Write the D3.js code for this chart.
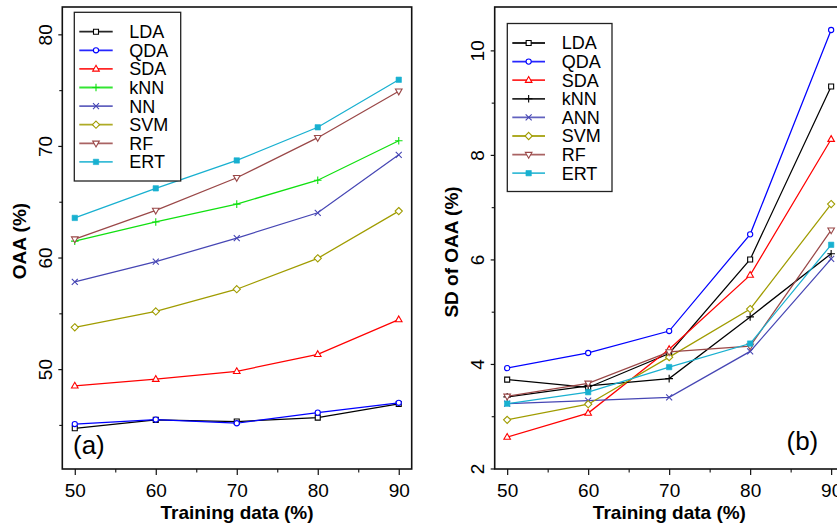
<!DOCTYPE html>
<html>
<head>
<meta charset="utf-8">
<script src="https://cdn.jsdelivr.net/npm/d3@7"></script>
<style>
  html, body { margin: 0; padding: 0; background: #fff; }
  svg { display: block; font-family: "Liberation Sans", Arial, sans-serif; }
</style>
</head>
<body>
<svg id="chart" width="837" height="528"></svg>
<script>
// Training share (%) on the x axis
const trainPct = [50, 60, 70, 80, 90];

// Panel (a): overall accuracy (OAA, %)
const methodsA = ["LDA", "QDA", "SDA", "kNN", "NN", "SVM", "RF", "ERT"];
const oaaLDA = [44.7, 45.45, 45.3, 45.65, 46.88];
const oaaQDA = [45.08, 45.48, 45.15, 46.1, 46.98];
const oaaSDA = [48.5, 49.1, 49.8, 51.33, 54.44];
const oaaKNN = [61.47, 63.19, 64.79, 66.93, 70.46];
const oaaNN  = [57.82, 59.63, 61.74, 64.01, 69.2];
const oaaSVM = [53.75, 55.17, 57.16, 59.93, 64.16];
const oaaRF  = [61.65, 64.22, 67.15, 70.74, 74.9];
const oaaERT = [63.55, 66.2, 68.7, 71.67, 75.93];

// Panel (b): standard deviation of OAA (%)
const methodsB = ["LDA", "QDA", "SDA", "kNN", "ANN", "SVM", "RF", "ERT"];
const sdLDA = [3.70, 3.55, 4.20, 6.00, 9.31];
const sdQDA = [3.92, 4.21, 4.63, 6.48, 10.39];
const sdSDA = [2.60, 3.06, 4.28, 5.70, 8.30];
const sdKNN = [3.37, 3.58, 3.72, 4.90, 6.11];
const sdANN = [3.24, 3.30, 3.36, 4.24, 6.01];
const sdSVM = [2.93, 3.23, 4.13, 5.05, 7.06];
const sdRF  = [3.38, 3.63, 4.23, 4.34, 6.56];
const sdERT = [3.24, 3.46, 3.94, 4.39, 6.28];

// Tick values
const xMajor = [50, 60, 70, 80, 90];
const xMinor = [55, 65, 75, 85];
const yMajorA = [50, 60, 70, 80];
const yMinorA = [45, 55, 65, 75];
const yMajorB = [2, 4, 6, 8, 10];
const yMinorB = [3, 5, 7, 9];

// Colours and marker shapes per legend row
const coloursA = ["#000000", "#0000ff", "#ff0000", "#10e010", "#4646b4", "#a09c00", "#9a4848", "#18b0d0"];
const coloursB = ["#000000", "#0000ff", "#ff0000", "#000000", "#4646b4", "#a09c00", "#9a4848", "#18b0d0"];
const shapes = ["square", "circle", "triUp", "plus", "cross", "diamond", "triDown", "squareFilled"];

const markerPath = {
  square: "M-2.5,-2.5h5v5h-5z",
  circle: "M2.6,0A2.6,2.6 0 1,1 -2.6,0A2.6,2.6 0 1,1 2.6,0Z",
  triUp: "M0,-3.6L3.3,2.2L-3.3,2.2Z",
  plus: "M-3.8,0H3.8M0,-3.8V3.8",
  cross: "M-3,-3L3,3M-3,3L3,-3",
  diamond: "M0,-3.6L3.6,0L0,3.6L-3.6,0Z",
  triDown: "M0,3.6L3.3,-2.2L-3.3,-2.2Z",
  squareFilled: "M-2.7,-2.7h5.4v5.4h-5.4z"
};

const svg = d3.select("#chart");
const FONT = '"Liberation Sans", Arial, sans-serif';

function drawMarker(g, shape, colour, x, y) {
  const filled = shape === "squareFilled";
  const open = !filled && shape !== "plus" && shape !== "cross";
  g.append("path")
    .attr("d", markerPath[shape])
    .attr("transform", `translate(${x},${y})`)
    .attr("fill", filled ? colour : (open ? "#fff" : "none"))
    .attr("stroke", colour)
    .attr("stroke-width", filled ? 0.6 : 1.1);
}

function panel(opts) {
  const { left, right, top, bottom, xDomain, yDomain, yMajor, yMinor,
          series, names, colours, yTitle, yTitleX, yTitleY, tag, tagX, tagY, legend } = opts;

  const x = d3.scaleLinear().domain(xDomain).range([left, right]);
  const y = d3.scaleLinear().domain(yDomain).range([bottom, top]);
  const g = svg.append("g");

  // plot area
  g.append("rect")
    .attr("x", left).attr("y", top)
    .attr("width", right - left).attr("height", bottom - top)
    .attr("fill", "#fff").attr("stroke", "#111").attr("stroke-width", 1.6);

  // x axis: major ticks with labels, minor ticks without
  const gx = g.append("g").attr("transform", `translate(0,${bottom})`)
    .call(d3.axisBottom(x).tickValues(xMajor).tickSize(6).tickFormat(d3.format("d")));
  gx.select(".domain").remove();
  gx.selectAll("line").attr("stroke", "#111").attr("stroke-width", 1.2);
  gx.selectAll("text").attr("y", 28).attr("dy", 0)
    .attr("font-size", 19).attr("font-family", FONT).attr("fill", "#000");
  const gxm = g.append("g").attr("transform", `translate(0,${bottom})`)
    .call(d3.axisBottom(x).tickValues(xMinor).tickSize(3.5).tickFormat(""));
  gxm.select(".domain").remove();
  gxm.selectAll("line").attr("stroke", "#111").attr("stroke-width", 1.1);

  // y axis: rotated labels
  const gy = g.append("g").attr("transform", `translate(${left},0)`)
    .call(d3.axisLeft(y).tickValues(yMajor).tickSize(4).tickFormat(d3.format("d")));
  gy.select(".domain").remove();
  gy.selectAll("line").attr("stroke", "#111").attr("stroke-width", 1.2);
  gy.selectAll("text")
    .attr("x", 0).attr("y", 0).attr("dy", 0)
    .attr("transform", "translate(-10.5,0) rotate(-90)")
    .attr("text-anchor", "middle")
    .attr("font-size", 19).attr("font-family", FONT).attr("fill", "#000");
  const gym = g.append("g").attr("transform", `translate(${left},0)`)
    .call(d3.axisLeft(y).tickValues(yMinor).tickSize(3).tickFormat(""));
  gym.select(".domain").remove();
  gym.selectAll("line").attr("stroke", "#111").attr("stroke-width", 1.1);

  // axis titles
  g.append("text")
    .attr("x", (left + right) / 2).attr("y", 519)
    .attr("text-anchor", "middle")
    .attr("font-size", 19).attr("font-weight", "bold").attr("font-family", FONT)
    .text("Training data (%)");
  g.append("text")
    .attr("transform", `translate(${yTitleX},${yTitleY}) rotate(-90)`)
    .attr("text-anchor", "middle")
    .attr("font-size", 19).attr("font-weight", "bold").attr("font-family", FONT)
    .text(yTitle);

  // series lines, then markers
  const line = d3.line().x((d, i) => x(trainPct[i])).y(d => y(d));
  series.forEach((vals, k) => {
    g.append("path")
      .datum(vals)
      .attr("d", line)
      .attr("fill", "none")
      .attr("stroke", colours[k])
      .attr("stroke-width", 1.25);
    vals.forEach((v, i) => drawMarker(g, shapes[k], colours[k], x(trainPct[i]), y(v)));
  });

  // legend
  const lg = g.append("g");
  lg.append("rect")
    .attr("x", legend.x0).attr("y", legend.y0)
    .attr("width", legend.x1 - legend.x0).attr("height", legend.y1 - legend.y0)
    .attr("fill", "#fff").attr("stroke", "#222").attr("stroke-width", 1.3);
  names.forEach((name, k) => {
    const yy = legend.firstY + k * legend.step;
    lg.append("line")
      .attr("x1", legend.lineX0).attr("x2", legend.lineX1)
      .attr("y1", yy).attr("y2", yy)
      .attr("stroke", colours[k]).attr("stroke-width", 1.8).attr("stroke-opacity", 0.85);
    drawMarker(lg, shapes[k], colours[k], (legend.lineX0 + legend.lineX1) / 2, yy);
    lg.append("text")
      .attr("x", legend.textX).attr("y", yy + 6.4)
      .attr("font-size", 18).attr("font-family", FONT).attr("fill", "#000")
      .text(name);
  });

  // panel tag
  g.append("text")
    .attr("x", tagX).attr("y", tagY)
    .attr("font-size", 26).attr("font-family", FONT).attr("fill", "#000")
    .text(tag);
}

panel({
  left: 62.3, right: 411.7, top: 7, bottom: 469,
  xDomain: [48.46, 91.6], yDomain: [41.05, 82.45],
  yMajor: yMajorA, yMinor: yMinorA,
  series: [oaaLDA, oaaQDA, oaaSDA, oaaKNN, oaaNN, oaaSVM, oaaRF, oaaERT],
  names: methodsA, colours: coloursA,
  yTitle: "OAA (%)", yTitleX: 26, yTitleY: 241,
  tag: "(a)", tagX: 73, tagY: 454,
  legend: { x0: 74.3, x1: 180.7, y0: 12.3, y1: 181, firstY: 31.7, step: 18.6,
            lineX0: 79.3, lineX1: 112.7, textX: 129.3 }
});

panel({
  left: 494.7, right: 844.1, top: 7, bottom: 469,
  xDomain: [48.46, 91.6], yDomain: [1.99, 10.83],
  yMajor: yMajorB, yMinor: yMinorB,
  series: [sdLDA, sdQDA, sdSDA, sdKNN, sdANN, sdSVM, sdRF, sdERT],
  names: methodsB, colours: coloursB,
  yTitle: "SD of OAA (%)", yTitleX: 457.5, yTitleY: 252,
  tag: "(b)", tagX: 786.5, tagY: 450,
  legend: { x0: 507.3, x1: 612, y0: 23.5, y1: 191.5, firstY: 43, step: 18.6,
            lineX0: 512.3, lineX1: 545, textX: 561.7 }
});
</script>
</body>
</html>
